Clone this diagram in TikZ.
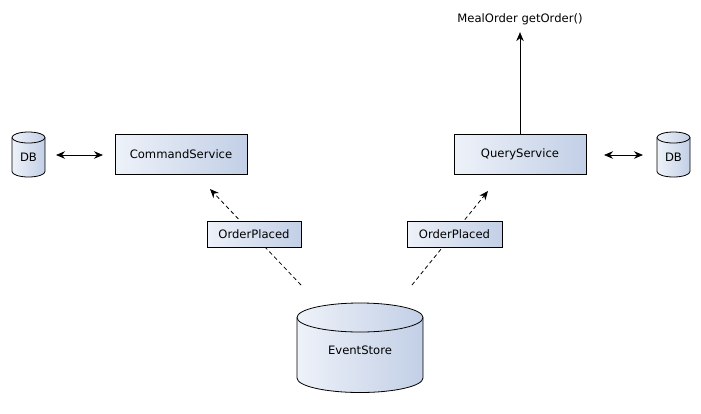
\documentclass[tikz,border=0pt]{standalone}
\usepackage{fontspec}
\setmainfont{DejaVu Sans}
\usetikzlibrary{arrows.meta}
\definecolor{fillL}{HTML}{EEF2F9}
\definecolor{fillR}{HTML}{C2CFE6}
\newcommand\mycyl[5]{% cx, y top-center, y bottom-center, rx, ry (y negative)
  \path[draw=black,line width=0.8pt,left color=fillL,right color=fillR]
    (#1-#4,#2) -- (#1-#4,#3) arc[start angle=180,end angle=360,x radius=#4,y radius=#5]
    -- (#1+#4,#2) arc[start angle=0,end angle=180,x radius=#4,y radius=#5] -- cycle;
  \draw[line width=0.8pt] (#1+#4,#2) arc[start angle=0,end angle=-180,x radius=#4,y radius=#5];
}
\begin{document}
\begin{tikzpicture}[x=1pt,y=1pt,
  font=\fontsize{11.6}{13}\selectfont,
  boxstyle/.style={draw=black,line width=0.8pt,left color=fillL,right color=fillR,inner sep=0pt},
  arr/.style={line width=0.8pt,-{Stealth[length=9pt,width=7.5pt]}},
  darr/.style={line width=0.8pt,{Stealth[length=9pt,width=7.5pt]}-{Stealth[length=9pt,width=7.5pt]}},
  dsh/.style={line width=0.8pt,dash pattern=on 4pt off 3pt,-{Stealth[length=9pt,width=7.5pt]}}]
\useasboundingbox (0,0) rectangle (701,-413);
% connectors behind boxes
\coordinate (esL) at (301,-285);
\coordinate (csB) at (210,-189);
\coordinate (esR) at (412,-285);
\coordinate (qsB) at (488,-191);
\draw[dsh] (esL) -- (csB);
\draw[dsh] (esR) -- (qsB);
% cylinders
\mycyl{28.5}{-137.5}{-171.5}{16.5}{5.5}
\mycyl{673.5}{-137.5}{-171.5}{16.5}{5.5}
\mycyl{360}{-317.5}{-378}{63}{14.5}
\node (dbl) at (28.5,-157) {DB};
\node (dbr) at (673.5,-157) {DB};
\node (es) at (360,-350) {EventStore};
% boxes
\node[boxstyle,minimum width=132pt,minimum height=40pt] (cs) at (181,-154.5) {CommandService};
\node[boxstyle,minimum width=132pt,minimum height=40pt] (qs) at (520,-154.5) {QueryService};
\node[boxstyle,minimum width=94pt,minimum height=26pt] (op1) at (254,-234) {OrderPlaced};
\node[boxstyle,minimum width=95pt,minimum height=26pt] (op2) at (454.5,-234) {OrderPlaced};
\node (mo) at (520,-19) {MealOrder getOrder()};
% arrows
\coordinate (dblE) at (56,-155);
\coordinate (csW) at (103,-155);
\draw[darr] (dblE) -- (csW);
\coordinate (qsE) at (604,-155);
\coordinate (dbrW) at (643,-155);
\draw[darr] (qsE) -- (dbrW);
\draw[arr] (qs.north) -- ([yshift=-4pt]mo.south);
\end{tikzpicture}
\end{document}
